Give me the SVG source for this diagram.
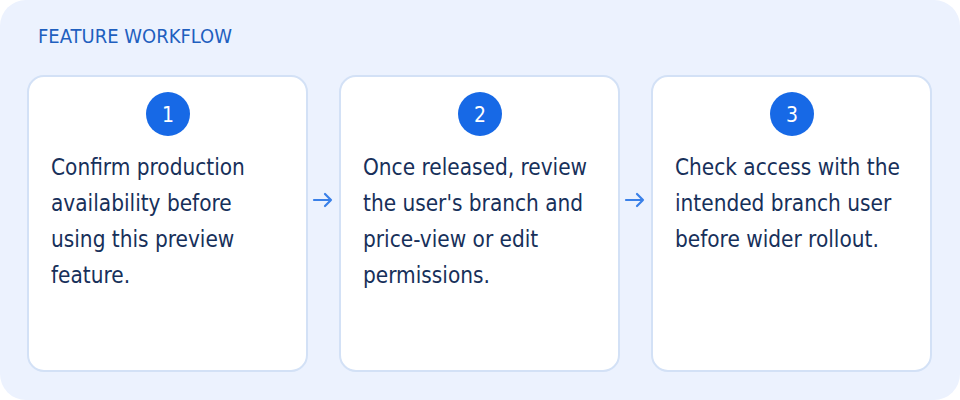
<svg xmlns="http://www.w3.org/2000/svg" width="960" height="400" viewBox="0 0 960 400">
<style>
.card{fill:#ffffff;stroke:#d3e1f6;stroke-width:2}
.num{fill:#1769e6}
.numt{fill:#ffffff;font-family:"DejaVu Sans Condensed","DejaVu Sans",sans-serif;font-size:21px;text-anchor:middle}
.body{fill:#17305a;font-family:"DejaVu Sans Condensed","DejaVu Sans",sans-serif;font-size:22.4px}
.title{fill:#1f5fbf;font-family:"DejaVu Sans Condensed","DejaVu Sans",sans-serif;font-size:20px}
.conn{stroke:#3a80e8;stroke-width:2.2;fill:none;stroke-linecap:round;stroke-linejoin:round}
</style>
<rect x="0" y="0" width="960" height="400" rx="26" fill="#ecf2fe"/>
<text class="title" x="38" y="43">FEATURE WORKFLOW</text>
<g id="step1">
<rect class="card" x="28" y="76" width="279" height="295" rx="16"/>
<circle class="num" cx="168" cy="114" r="22"/>
<text class="numt" x="168" y="121.5">1</text>
<text class="body" x="51" y="175">Confirm production</text>
<text class="body" x="51" y="211">availability before</text>
<text class="body" x="51" y="247">using this preview</text>
<text class="body" x="51" y="283">feature.</text>
</g>
<g id="step2">
<rect class="card" x="340" y="76" width="279" height="295" rx="16"/>
<circle class="num" cx="480" cy="114" r="22"/>
<text class="numt" x="480" y="121.5">2</text>
<text class="body" x="363" y="175">Once released, review</text>
<text class="body" x="363" y="211">the user's branch and</text>
<text class="body" x="363" y="247">price-view or edit</text>
<text class="body" x="363" y="283">permissions.</text>
</g>
<g id="step3">
<rect class="card" x="652" y="76" width="279" height="295" rx="16"/>
<circle class="num" cx="792" cy="114" r="22"/>
<text class="numt" x="792" y="121.5">3</text>
<text class="body" x="675" y="175">Check access with the</text>
<text class="body" x="675" y="211">intended branch user</text>
<text class="body" x="675" y="247">before wider rollout.</text>
</g>
<g id="connectors">
<path class="conn" d="M314 200 H331 M325 194 L331 200 L325 206"/>
<path class="conn" d="M626 200 H643 M637 194 L643 200 L637 206"/>
</g>
</svg>
